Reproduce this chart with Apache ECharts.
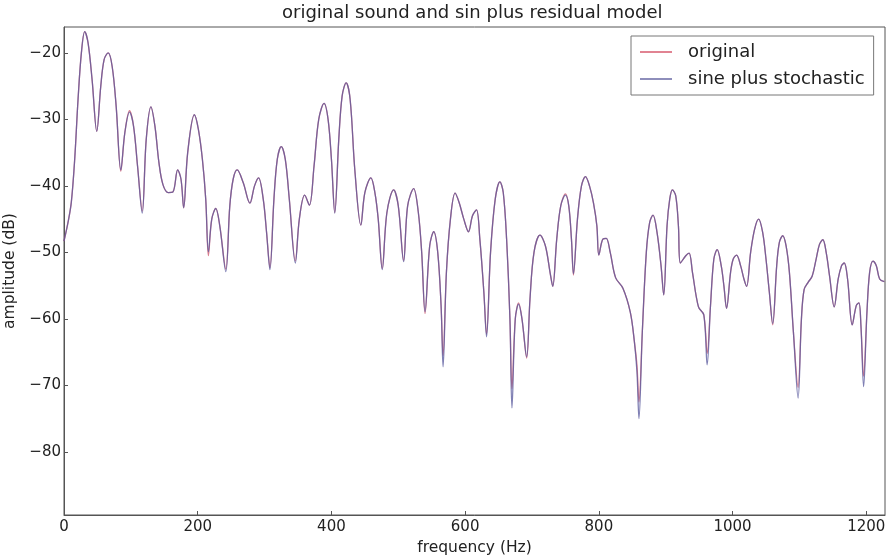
<!DOCTYPE html>
<html>
<head>
<meta charset="utf-8">
<title>original sound and sin plus residual model</title>
<script src="https://cdn.jsdelivr.net/npm/echarts@6/dist/echarts.min.js"></script>
<style>
  html, body { margin: 0; padding: 0; background: #fff; }
  #chart { width: 890px; height: 555px; }
</style>
</head>
<body>
<div id="chart"></div>
<script>
// Magnitude spectrum samples (Hz) shared by both curves
const freqHz = [
  0, 6, 11, 16, 21, 26, 31, 36, 42, 49, 55, 60, 66, 72, 78, 85, 91, 98, 104, 110,
  117, 123, 130, 136, 142, 148, 156, 163, 170, 175, 179, 185, 195, 201, 207, 212, 216, 221, 227, 233,
  242, 248, 253, 259, 268, 278, 285, 291, 298, 303, 308, 314, 319, 325, 331, 337, 346, 352, 360, 367,
  374, 381, 389, 395, 400, 405, 411, 416, 422, 428, 435, 444, 450, 459, 465, 470, 476, 483, 493, 500,
  508, 514, 523, 530, 535, 540, 547, 553, 559, 564, 567, 572, 578, 585, 591, 598, 605, 611, 617, 622,
  628, 632, 638, 645, 652, 657, 662, 667, 670, 675, 680, 685, 692, 697, 703, 712, 720, 727, 731, 737,
  743, 750, 755, 759, 762, 768, 774, 780, 786, 792, 797, 800, 806, 811, 817, 825, 836, 847, 853, 857,
  860, 865, 871, 876, 881, 887, 893, 897, 902, 906, 910, 915, 919, 922, 930, 935, 940, 949, 957, 962,
  967, 972, 977, 983, 987, 991, 997, 1001, 1006, 1012, 1017, 1021, 1027, 1033, 1039, 1045, 1050, 1055, 1060, 1066,
  1070, 1075, 1080, 1085, 1091, 1098, 1103, 1107, 1113, 1119, 1125, 1130, 1135, 1140, 1145, 1152, 1158, 1163, 1167, 1172,
  1179, 1185, 1189, 1192, 1196, 1201, 1205, 1210, 1215, 1220, 1227
];

// Spectrum of the original sound (dB)
const originalDb = [
  -48.3, -45.5, -42.4, -36.0, -27.0, -20.0, -16.8, -18.5, -24.0, -31.8, -25.0, -21.0, -20.0, -22.0, -28.0, -37.8, -32.0, -28.7, -31.0, -37.0,
  -43.8, -33.0, -28.1, -31.0, -36.5, -39.8, -41.0, -40.9, -37.6, -39.0, -43.3, -35.0, -29.3, -31.5, -36.0, -42.0, -50.5, -45.0, -43.4, -46.0,
  -52.5, -43.0, -39.0, -37.6, -39.5, -42.6, -40.0, -38.8, -42.0, -47.0, -52.3, -42.0, -36.0, -34.1, -36.0, -42.0, -51.3, -45.0, -41.4, -42.9,
  -37.0, -30.0, -27.6, -30.0, -36.0, -44.0, -33.0, -26.5, -24.5, -27.0, -37.6, -45.9, -41.0, -38.8, -41.0, -45.0, -52.4, -44.0, -40.6, -43.0,
  -51.2, -43.0, -40.4, -44.0, -50.0, -59.2, -49.0, -46.9, -50.0, -58.0, -65.5, -53.0, -45.0, -41.1, -42.5, -45.0, -46.9, -44.5, -43.6, -48.0,
  -56.0, -62.3, -50.0, -42.0, -39.4, -41.0, -48.0, -60.0, -70.5, -60.0, -57.6, -60.0, -65.9, -57.0, -50.0, -47.4, -49.0, -53.0, -55.1, -48.0,
  -43.0, -41.2, -43.0, -48.0, -53.4, -45.0, -40.0, -38.6, -40.0, -42.6, -46.0, -50.4, -48.0, -47.9, -50.0, -53.8, -55.4, -59.0, -63.3, -67.0,
  -72.5, -62.0, -50.0, -45.5, -44.4, -47.0, -52.0, -56.4, -46.0, -42.0, -40.6, -41.5, -46.0, -51.6, -50.5, -50.1, -53.0, -58.2, -59.4, -65.2,
  -58.0, -51.0, -49.6, -52.0, -55.0, -58.4, -53.0, -51.0, -50.4, -52.0, -54.0, -55.1, -50.0, -46.5, -45.0, -47.0, -51.0, -56.0, -60.9, -52.0,
  -48.5, -47.5, -49.0, -53.0, -62.0, -70.3, -60.0, -55.6, -54.5, -53.6, -51.0, -48.8, -48.1, -50.0, -53.5, -58.2, -54.0, -52.0, -51.6, -54.0,
  -60.9, -58.0, -57.6, -61.0, -68.6, -59.0, -53.0, -51.3, -52.0, -54.0, -54.4
];

// Sinusoidal plus stochastic resynthesis (dB)
const sineStochasticDb = [
  -48.3, -45.5, -42.4, -36.0, -27.0, -20.0, -16.8, -18.5, -24.0, -31.8, -25.0, -21.0, -20.0, -22.0, -28.0, -37.6, -32.0, -28.9, -31.0, -37.0,
  -44.1, -33.0, -28.1, -31.0, -36.5, -39.8, -41.0, -40.9, -37.6, -39.0, -43.3, -35.0, -29.3, -31.5, -36.0, -42.0, -49.9, -45.0, -43.4, -46.0,
  -52.9, -43.0, -39.0, -37.6, -39.5, -42.6, -40.0, -38.8, -42.0, -47.0, -52.6, -42.0, -36.0, -34.1, -36.0, -42.0, -51.6, -45.0, -41.4, -42.9,
  -37.0, -30.0, -27.6, -30.0, -36.0, -44.1, -33.0, -26.5, -24.5, -27.0, -37.6, -45.9, -41.0, -38.8, -41.0, -45.0, -52.6, -44.0, -40.6, -43.0,
  -51.4, -43.0, -40.4, -44.0, -50.0, -58.9, -49.0, -46.9, -50.0, -58.0, -67.2, -53.0, -45.0, -41.1, -42.5, -45.0, -46.9, -44.5, -43.6, -48.0,
  -56.0, -62.7, -50.0, -42.0, -39.4, -41.0, -48.0, -60.0, -73.4, -60.0, -57.8, -60.0, -65.7, -57.0, -50.0, -47.4, -49.0, -53.0, -55.1, -48.0,
  -43.0, -41.4, -43.0, -48.0, -53.2, -45.0, -40.0, -38.6, -40.0, -42.6, -46.0, -50.4, -48.0, -47.9, -50.0, -53.8, -55.4, -59.0, -63.3, -68.0,
  -75.0, -62.0, -50.0, -45.5, -44.4, -47.0, -52.0, -56.4, -46.0, -42.0, -40.6, -41.5, -46.0, -51.6, -50.5, -50.1, -53.0, -58.2, -59.4, -66.9,
  -58.0, -51.0, -49.6, -52.0, -55.0, -58.4, -53.0, -51.0, -50.4, -52.0, -54.0, -55.1, -50.0, -46.5, -45.0, -47.0, -51.0, -56.0, -60.7, -52.0,
  -48.5, -47.5, -49.0, -53.0, -62.0, -71.9, -60.0, -55.6, -54.5, -53.6, -51.0, -48.8, -48.1, -50.0, -53.5, -58.2, -54.0, -52.0, -51.6, -54.0,
  -60.9, -58.0, -57.6, -61.0, -70.2, -59.0, -53.0, -51.3, -52.0, -54.0, -54.4
];

const seriesNames = ['original', 'sine plus stochastic'];
const xTicks = [0, 200, 400, 600, 800, 1000, 1200];
const yTicks = [-80, -70, -60, -50, -40, -30, -20];

const FONT = 'DejaVu Sans';
const AXIS_COLOR = '#555';
const TEXT_COLOR = '#222';

function pairs(xs, ys) {
  return xs.map((x, i) => [x, ys[i]]);
}

function minusLabel(v) {
  return v < 0 ? '\u2212' + Math.abs(v) : String(v);
}

const chart = echarts.init(document.getElementById('chart'), null, { renderer: 'canvas' });

chart.setOption({
  animation: false,
  backgroundColor: '#fff',
  title: {
    text: 'original sound and sin plus residual model',
    left: 282,
    top: 0,
    padding: [4, 0, 0, 0],
    textStyle: { fontFamily: FONT, fontSize: 18, fontWeight: 'normal', color: TEXT_COLOR }
  },
  legend: {
    data: seriesNames,
    orient: 'vertical',
    left: 631,
    top: 36,
    padding: [7, 9, 7, 9],
    itemGap: 9,
    itemWidth: 32,
    itemHeight: 1.5,
    icon: 'rect',
    backgroundColor: '#fff',
    borderColor: '#777',
    borderWidth: 1,
    textStyle: { fontFamily: FONT, fontSize: 18, color: TEXT_COLOR, padding: [0, 0, 0, 11] }
  },
  grid: {
    left: 64,
    right: 5,
    top: 27,
    bottom: 40,
    outerBoundsMode: 'none',
    containLabel: false,
    show: true,
    borderColor: AXIS_COLOR,
    borderWidth: 1,
    backgroundColor: '#fff'
  },
  xAxis: {
    type: 'value',
    min: 0,
    max: 1228,
    interval: 200,
    name: 'frequency (Hz)',
    nameLocation: 'middle',
    nameGap: 21,
    nameTextStyle: { fontFamily: FONT, fontSize: 15.5, color: TEXT_COLOR },
    axisLine: { show: true, lineStyle: { color: AXIS_COLOR, width: 1 } },
    axisTick: { show: true, inside: true, length: 4, lineStyle: { color: AXIS_COLOR } },
    axisLabel: {
      fontFamily: FONT, fontSize: 15, color: TEXT_COLOR, margin: 5,
      showMaxLabel: false,
      formatter: v => (xTicks.includes(v) ? String(v) : '')
    },
    splitLine: { show: false }
  },
  yAxis: {
    type: 'value',
    min: -89.5,
    max: -16.1,
    minInterval: 10,
    maxInterval: 10,
    name: 'amplitude (dB)',
    nameLocation: 'middle',
    nameGap: 36,
    nameTextStyle: { fontFamily: FONT, fontSize: 15.5, color: TEXT_COLOR },
    axisLine: { show: true, lineStyle: { color: AXIS_COLOR, width: 1 } },
    axisTick: { show: true, inside: true, length: 4, lineStyle: { color: AXIS_COLOR } },
    axisLabel: {
      fontFamily: FONT, fontSize: 15, color: TEXT_COLOR, margin: 3,
      showMinLabel: false,
      showMaxLabel: false,
      formatter: v => (yTicks.includes(v) ? minusLabel(v) : '')
    },
    splitLine: { show: false }
  },
  series: [
    {
      name: seriesNames[0],
      type: 'line',
      data: pairs(freqHz, originalDb),
      symbol: 'none',
      smooth: 0.35,
      color: 'rgb(215,90,110)',
      lineStyle: { width: 1.3, color: 'rgba(200,70,95,0.7)' },
      z: 2
    },
    {
      name: seriesNames[1],
      type: 'line',
      data: pairs(freqHz, sineStochasticDb),
      symbol: 'none',
      smooth: 0.35,
      color: 'rgb(105,105,165)',
      lineStyle: { width: 1.3, color: 'rgba(85,85,155,0.75)' },
      z: 3
    }
  ]
});
</script>
</body>
</html>
